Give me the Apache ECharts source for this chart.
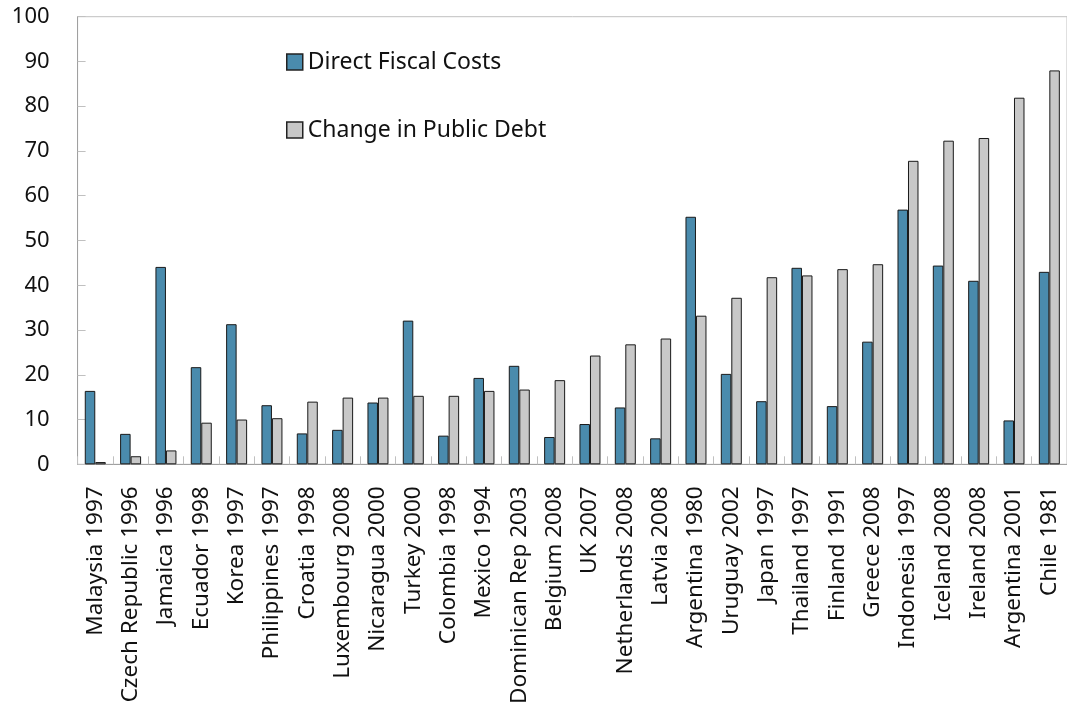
<!DOCTYPE html>
<html>
<head>
<meta charset="utf-8">
<script src="https://cdn.jsdelivr.net/npm/echarts@6/dist/echarts.min.js"></script>
<style>html,body{margin:0;padding:0;background:#fff;}#chart{width:1067px;height:713px;}</style>
</head>
<body>
<div id="chart"></div>
<script>
const categories = ['Malaysia 1997','Czech Republic 1996','Jamaica 1996','Ecuador 1998','Korea 1997','Philippines 1997','Croatia 1998','Luxembourg 2008','Nicaragua 2000','Turkey 2000','Colombia 1998','Mexico 1994','Dominican Rep 2003','Belgium 2008','UK 2007','Netherlands 2008','Latvia 2008','Argentina 1980','Uruguay 2002','Japan 1997','Thailand 1997','Finland 1991','Greece 2008','Indonesia 1997','Iceland 2008','Ireland 2008','Argentina 2001','Chile 1981'];
const directFiscalCosts = [16.4,6.8,44.1,21.7,31.3,13.2,6.9,7.7,13.8,32.1,6.4,19.3,22.0,6.1,9.0,12.7,5.8,55.3,20.2,14.1,43.9,13.0,27.4,56.9,44.4,41.0,9.8,43.0];
const changeInPublicDebt = [0.5,1.8,3.1,9.3,10.0,10.3,14.0,14.9,14.9,15.3,15.3,16.4,16.7,18.8,24.3,26.8,28.1,33.2,37.2,41.8,42.2,43.6,44.7,67.8,72.3,72.9,81.9,88.0];
const yTicks = {min:0, max:100, interval:10};

const chart = echarts.init(document.getElementById('chart'), null, {renderer:'canvas'});
const font = 'Noto Sans';
chart.setOption({
  animation:false,
  backgroundColor:'#ffffff',
  textStyle:{fontFamily:font},
  grid:{left:77.6, top:16.7, bottom:248.7, right:-10.6, show:true, borderColor:'#c0c0c0', borderWidth:1},
  legend:{
    orient:'vertical', left:281, top:45.5, itemWidth:16, itemHeight:16, itemGap:45, itemTextGap:6,
    textStyle:{fontFamily:font, fontSize:23, color:'#111'},
    data:[
      {name:'Direct Fiscal Costs', icon:'rect', itemStyle:{borderColor:'#222', borderWidth:1.5}},
      {name:'Change in Public Debt', icon:'rect', itemStyle:{borderColor:'#222', borderWidth:1.5}}
    ]
  },
  xAxis:{
    type:'category', data:categories,
    axisLine:{lineStyle:{color:'#a0a0a0', width:1}},
    axisTick:{show:true, inside:true, length:8, lineStyle:{color:'#c0c0c0'}},
    axisLabel:{interval:0, rotate:90, margin:22, fontSize:22.5, color:'#111', fontFamily:font}
  },
  yAxis:{
    type:'value', min:yTicks.min, max:yTicks.max, interval:yTicks.interval,
    axisLine:{show:true, lineStyle:{color:'#a0a0a0', width:1}},
    axisTick:{show:true, inside:true, length:8, lineStyle:{color:'#c0c0c0'}},
    splitLine:{show:false},
    axisLabel:{margin:28, fontSize:22, color:'#111', fontFamily:font}
  },
  series:[
    {name:'Direct Fiscal Costs', type:'bar', data:directFiscalCosts, barWidth:10.5, barGap:'0%',
     itemStyle:{color:'#4a8bad', borderColor:'#1a1a1a', borderWidth:1}},
    {name:'Change in Public Debt', type:'bar', data:changeInPublicDebt, barWidth:10.5, barGap:'0%',
     itemStyle:{color:'#c8c8c8', borderColor:'#1a1a1a', borderWidth:1}}
  ]
});
</script>
</body>
</html>
